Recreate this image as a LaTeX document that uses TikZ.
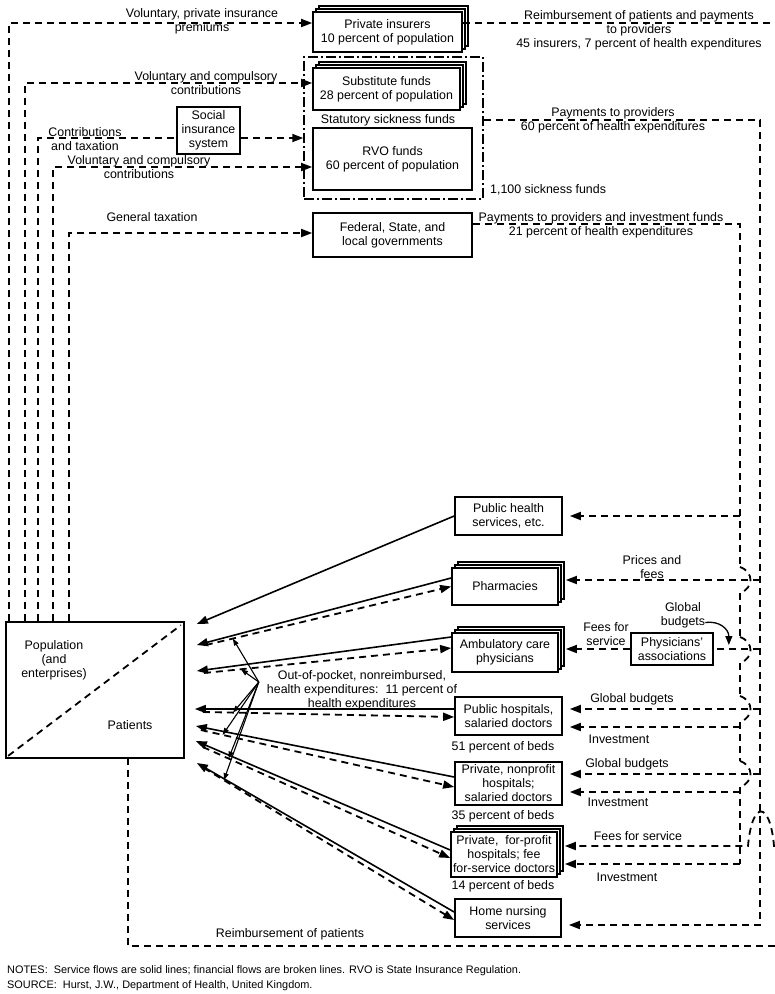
\documentclass[tikz,border=0pt]{standalone}
\usepackage{fontspec}
\setmainfont{Liberation Sans}
\usetikzlibrary{arrows.meta,shadows,calc}

\tikzset{
  box/.style={draw, line width=1.7pt, fill=white, align=center, inner sep=1pt},
  stackbox/.style={box, copy shadow={shadow xshift=6pt, shadow yshift=6pt},
                   copy shadow={shadow xshift=3pt, shadow yshift=3pt}},
  fundframe/.style={draw, line width=1.5pt, dash pattern=on 10pt off 3pt on 2pt off 3pt},
  money/.style={line width=1.8pt, dash pattern=on 7pt off 5pt},
  pay/.style={money, -{Triangle[length=11pt,width=8pt]}},
  feed/.style={pay, shorten >=7pt},
  serv/.style={line width=1.6pt, -{Triangle[length=11pt,width=8pt]}},
  oopline/.style={line width=1.1pt, -{Triangle[length=7pt,width=5pt]}},
  lbl/.style={align=center, inner sep=0pt},
}

\begin{document}
\begin{tikzpicture}[x=1pt, y=-1pt, font=\fontsize{12.4}{14}\selectfont]
\useasboundingbox (0,0) rectangle (775,994);

% payers
\node[stackbox, minimum width=149pt, minimum height=40pt] (pins) at (387.5,32) {Private insurers\\10 percent of population};
\node[fundframe, minimum width=179pt, minimum height=142pt] (stat) at (393.5,128) {};
\node[stackbox, minimum width=147pt, minimum height=42pt] (subst) at (386.5,89) {Substitute funds\\28 percent of population};
\node[lbl] (statlbl) at (388,120) {Statutory sickness funds};
\node[box, minimum width=159pt, minimum height=62pt] (rvo) at (392.5,159) {RVO funds\\60 percent of population};
\node[lbl, anchor=west] (nfunds) at (490,190) {1,100 sickness funds};
\node[box, minimum width=63pt, minimum height=47pt] (social) at (208.5,130.5) {Social\\insurance\\system};
\node[box, minimum width=159pt, minimum height=44pt] (gov) at (392.5,235) {Federal, State, and\\local governments};

% providers
\node[box, minimum width=107pt, minimum height=38pt] (pubhealth) at (508.5,516) {Public health\\services, etc.};
\node[stackbox, minimum width=106pt, minimum height=37pt] (pharm) at (505,586.5) {Pharmacies};
\node[stackbox, minimum width=106pt, minimum height=39pt] (ambul) at (505,652.5) {Ambulatory care\\physicians};
\node[box, minimum width=82pt, minimum height=32pt] (physassoc) at (672,649) {Physicians'\\associations};
\node[box, minimum width=107pt, minimum height=38pt] (pubhosp) at (508.5,716) {Public hospitals,\\salaried doctors};
\node[box, minimum width=107pt, minimum height=43pt] (nonprof) at (508.5,783.5) {Private, nonprofit\\hospitals;\\salaried doctors};
\node[stackbox, minimum width=106pt, minimum height=45pt] (forprof) at (504,854.5) {Private,\ \ for-profit\\hospitals; fee\\for-service doctors};
\node[box, minimum width=106pt, minimum height=38pt] (homenurs) at (508,918) {Home nursing\\services};

% population
\node[box, minimum width=178pt, minimum height=136pt] (pop) at (95,690) {};
\draw[money] ([shift={(3,-3)}]pop.south west) -- ([shift={(-4,4)}]pop.north east);
\node[lbl] (poplbl) at (54,660) {Population\\(and\\enterprises)};
\node[lbl] (patlbl) at (130,725) {Patients};

% contributions
\draw[pay] ([xshift=4pt]pop.north west) |- ([yshift=9pt]pins.west);
\draw[pay] ([xshift=20pt]pop.north west) |- ([yshift=6pt]subst.west);
\draw[money] ([xshift=33pt]pop.north west) |- ([yshift=-7.5pt]social.west);
\coordinate (soc) at ([yshift=-7.5pt]social.east);
\draw[pay] (soc) -- (soc -| stat.west);
\draw[pay] ([xshift=48pt]pop.north west) |- ([yshift=-8pt]rvo.west);
\draw[pay] ([xshift=64pt]pop.north west) |- ([yshift=2pt]gov.west);

\node[lbl] (lprem) at (202,21.5) {Voluntary, private insurance\\premiums};
\node[lbl] (lvol1) at (206,83.5) {Voluntary and compulsory\\contributions};
\node[lbl] (ltax) at (85,139) {Contributions\\and taxation};
\node[lbl] (lvol2) at (139,167.5) {Voluntary and compulsory\\contributions};
\node[lbl] (lgen) at (152,217) {General taxation};

% payments to providers
\coordinate (outer) at (760,120);
\coordinate (inner) at (740,224);
\coordinate (edge) at (775,0);
\coordinate (rtop) at ([yshift=9pt]pins.east);
\draw[money] (rtop) -- (rtop -| edge);
\node[lbl] (lreimb) at (639,30) {Reimbursement of patients and payments\\to providers\\45 insurers, 7 percent of health expenditures};
\node[lbl] (lsick) at (613,120) {Payments to providers\\60 percent of health expenditures};
\node[lbl] (lgov) at (601,225) {Payments to providers and investment funds\\21 percent of health expenditures};

\coordinate (hn) at ([yshift=-7pt]homenurs.east);
\draw[feed] ([yshift=8pt]stat.east) -- (outer) |- (hn);
\coordinate (fp2) at ([yshift=-9.5pt]forprof.east);
% inner trunk, broken where it jumps the lines to the outer trunk
\draw[money] ([yshift=11pt]gov.east) -- (inner) -- (740,567)
  (740,593) -- (740,637) (740,663) -- (740,696) (740,722) -- (740,761) (740,787) -- (inner |- fp2);
\foreach \y in {580,650,709,774}
  \draw[money] (740,\y-13) .. controls (754,\y-8) and (754,\y+8) .. (740,\y+13);
\draw[feed] (inner |- fp2) -- (fp2);

\draw[feed] (inner |- pubhealth.east) -- (pubhealth.east);
\coordinate (pr1) at ([yshift=6.5pt]pharm.east);
\draw[feed] (outer |- pr1) -- (pr1);
\draw[money] (outer |- physassoc.east) -- (physassoc.east);
\draw[feed] (physassoc.west) -- (physassoc.west -| ambul.east);
\coordinate (ph1) at ([yshift=7pt]pubhosp.east);
\draw[feed] (outer |- ph1) -- (ph1);
\coordinate (ph2) at ([yshift=-11pt]pubhosp.east);
\draw[feed] (inner |- ph2) -- (ph2);
\coordinate (np1) at ([yshift=9.5pt]nonprof.east);
\draw[feed] (outer |- np1) -- (np1);
\coordinate (np2) at ([yshift=-8.5pt]nonprof.east);
\draw[feed] (inner |- np2) -- (np2);
\coordinate (fp1) at ([yshift=8.5pt]forprof.east);
\draw[feed] (edge |- fp1) -- (774,846) .. controls (770,800) and (752,800) .. (748,846) -- (fp1);

\node[lbl] (glob) at (683,615.5) {Global\\budgets};
\coordinate (gbt) at ([shift={(15,-4)}]physassoc.east);
\draw[line width=1.3pt, -{Triangle[length=9pt,width=7pt]}] ([yshift=-7pt]glob.east) .. controls +(14,-2) and +(0,-16) .. (gbt);

\node[lbl] (lprice) at (652,567) {Prices and\\fees};
\node[lbl] (lfee1) at (606,634) {Fees for\\service};
\node[lbl] (lglob1) at (632,699) {Global budgets};
\node[lbl] (linv1) at (619,739) {Investment};
\node[lbl] (lbeds1) at (503,747) {51 percent of beds};
\node[lbl] (lglob2) at (627,764) {Global budgets};
\node[lbl] (linv2) at (618,802) {Investment};
\node[lbl] (lbeds2) at (503,816) {35 percent of beds};
\node[lbl] (lfee2) at (638,836) {Fees for service};
\node[lbl] (linv3) at (627,877) {Investment};
\node[lbl] (lbeds3) at (503,886) {14 percent of beds};

% reimbursement of patients
\coordinate (rbot) at (775,946);
\draw[money] (rbot) -| ([xshift=33pt]pop.south);
\node[lbl] (lpat) at (290,934) {Reimbursement of patients};

% services
\draw[serv] (pubhealth.west) -- ($(pop.east)+(12,-66)$);
\draw[serv] ([yshift=8.5pt]pharm.west) -- ($(pop.east)+(12,-45)$);
\draw[serv] ([yshift=15.5pt]ambul.west) -- ($(pop.east)+(12,-19)$);
\draw[serv] ([yshift=7pt]pubhosp.west) -- ($(pop.east)+(10,19)$);
\draw[serv] ([yshift=6.5pt]nonprof.west) -- ($(pop.east)+(11,36)$);
\draw[serv] ([yshift=4.5pt]forprof.west) -- ($(pop.east)+(11,51)$);
\draw[serv] ([yshift=6pt]homenurs.west) -- ($(pop.east)+(12,73)$);

% out-of-pocket payments
\draw[pay] ($(pop.east)+(21,-45)$) -- coordinate[pos=0.11] (o1) (pharm.west);
\draw[pay] ($(pop.east)+(19,-17)$) -- coordinate[pos=0.15] (o2) ([yshift=4.5pt]ambul.west);
\draw[pay] ($(pop.east)+(18,22)$) -- coordinate[pos=0.12] (o3) ([yshift=-1pt]pubhosp.west);
\draw[pay] ($(pop.east)+(16,40)$) -- coordinate[pos=0.086] (o4) ([yshift=-3.5pt]nonprof.west);
\draw[pay] ($(pop.east)+(18,57)$) -- coordinate[pos=0.104] (o5) ([yshift=-3.5pt]forprof.west);
\draw[pay] ($(pop.east)+(19,78)$) -- coordinate[pos=0.08] (o6) ([yshift=-2pt]homenurs.west);

\node[lbl] (oop) at (362,690) {Out-of-pocket, nonreimbursed,\\health expenditures:\ \ 11 percent of\\health expenditures};
\coordinate (oopf) at ($(oop.west)+(-8,-8)$);
\foreach \t in {1,...,6} \draw[oopline] (oopf) -- (o\t);

% notes
\node[anchor=west, inner sep=0pt, font=\fontsize{10.9}{13}\selectfont] (notes) at (7,971) {NOTES:\ \ Service flows are solid lines; financial flows are broken lines. RVO is State Insurance Regulation.};
\node[anchor=west, inner sep=0pt, font=\fontsize{10.9}{13}\selectfont] (source) at (7,986) {SOURCE:\ \ Hurst, J.W., Department of Health, United Kingdom.};
\end{tikzpicture}
\end{document}
